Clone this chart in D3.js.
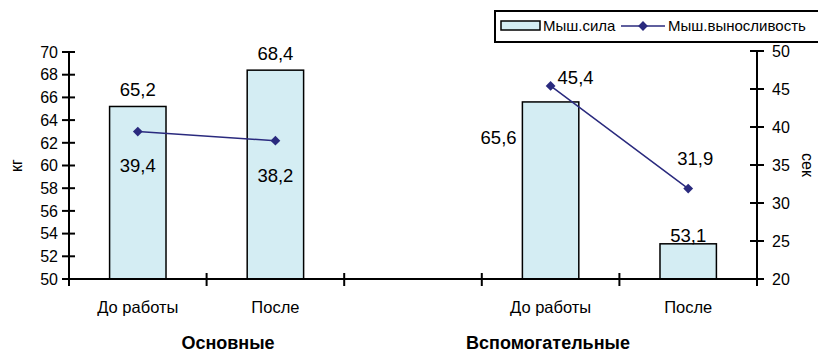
<!DOCTYPE html>
<html>
<head>
<meta charset="utf-8">
<script src="https://cdn.jsdelivr.net/npm/d3@7"></script>
<style>
  body { margin: 0; background: #fff; }
  text { font-family: "Liberation Sans", Arial, sans-serif; fill: #000; }
</style>
</head>
<body>
<div id="chart"></div>
<script>
/** DATA */
const categories = ["До работы", "После", "", "До работы", "После"];
const strength = [65.2, 68.4, null, 65.6, 53.1];     // кг
const endurance = [39.4, 38.2, null, 45.4, 31.9];    // сек
const leftTicks = [50, 52, 54, 56, 58, 60, 62, 64, 66, 68, 70];
const rightTicks = [20, 25, 30, 35, 40, 45, 50];
const groups = ["Основные", "Вспомогательные"];

// label offsets (dx, dy) relative to the mark, tuned by eye
const barLabelOffset = [[0, -17], [0, -17], null, [-52, 35], [0, -8]];
const lineLabelOffset = [[0, 34], [0, 35], null, [25, -9], [7, -30]];
const groupX = [228, 548];

const width = 818, height = 353,
  margin = { top: 51, bottom: 74, left: 69, right: 61 };

const fmt = v => String(v).replace(".", ",");

const svg = d3.select("#chart").append("svg")
  .attr("width", width)
  .attr("height", height);

const x = d3.scaleBand()
  .domain(d3.range(categories.length))
  .range([margin.left, width - margin.right]);

const yL = d3.scaleLinear([50, 70], [height - margin.bottom, margin.top + 1]);
const yR = d3.scaleLinear([20, 50], [height - margin.bottom, margin.top]);

const barW = x.bandwidth() * 0.41;
const cx = i => x(i) + x.bandwidth() / 2;

// bars
svg.selectAll("rect.bar")
  .data(strength.map((v, i) => ({ v, i })).filter(d => d.v != null))
  .join("rect")
  .attr("class", "bar")
  .attr("x", d => cx(d.i) - barW / 2)
  .attr("y", d => yL(d.v))
  .attr("width", barW)
  .attr("height", d => yL(50) - yL(d.v))
  .attr("fill", "#d4edf3")
  .attr("stroke", "#000")
  .attr("stroke-width", 1.5);

// axes
const axisG = svg.append("g").attr("stroke", "#000").attr("stroke-width", 2);
axisG.append("line")
  .attr("x1", margin.left).attr("x2", margin.left)
  .attr("y1", yL(70)).attr("y2", yL(50));
axisG.append("line")
  .attr("x1", width - margin.right).attr("x2", width - margin.right)
  .attr("y1", yR(50)).attr("y2", yR(20));
axisG.append("line")
  .attr("x1", margin.left).attr("x2", width - margin.right)
  .attr("y1", yL(50)).attr("y2", yL(50));

axisG.selectAll("line.lt")
  .data(leftTicks).join("line")
  .attr("x1", margin.left - 7).attr("x2", margin.left + 6)
  .attr("y1", d => yL(d)).attr("y2", d => yL(d));
axisG.selectAll("line.rt")
  .data(rightTicks).join("line")
  .attr("x1", width - margin.right - 7).attr("x2", width - margin.right + 7)
  .attr("y1", d => yR(d)).attr("y2", d => yR(d));
axisG.selectAll("line.bt")
  .data(d3.range(categories.length + 1)).join("line")
  .attr("x1", d => margin.left + d * x.step()).attr("x2", d => margin.left + d * x.step())
  .attr("y1", yL(50) - 6).attr("y2", yL(50) + 7);

svg.selectAll("text.lt")
  .data(leftTicks).join("text")
  .attr("x", margin.left - 11).attr("y", d => yL(d))
  .attr("dy", "0.36em").attr("text-anchor", "end")
  .style("font-size", "16px")
  .text(d => d);
svg.selectAll("text.rt")
  .data(rightTicks).join("text")
  .attr("x", width - margin.right + 15).attr("y", d => yR(d))
  .attr("dy", "0.36em")
  .style("font-size", "16px")
  .text(d => d);
svg.selectAll("text.cat")
  .data(categories).join("text")
  .attr("x", (d, i) => cx(i)).attr("y", 313)
  .attr("text-anchor", "middle")
  .style("font-size", "16.5px")
  .text(d => d);
svg.selectAll("text.grp")
  .data(groups).join("text")
  .attr("x", (d, i) => groupX[i]).attr("y", 349)
  .attr("text-anchor", "middle")
  .style("font-size", "18px").style("font-weight", "bold")
  .text(d => d);

svg.append("text")
  .attr("transform", `translate(22,${(yL(50) + yL(70)) / 2}) rotate(-90)`)
  .attr("text-anchor", "middle").style("font-size", "16px").text("кг");
svg.append("text")
  .attr("transform", `translate(802,${(yR(20) + yR(50)) / 2}) rotate(90)`)
  .attr("text-anchor", "middle").style("font-size", "16px").text("сек");

// line, broken at the empty category
const line = d3.line()
  .defined(d => d.v != null)
  .x(d => cx(d.i))
  .y(d => yR(d.v));
const pts = endurance.map((v, i) => ({ v, i }));
svg.append("path")
  .datum(pts)
  .attr("d", line)
  .attr("fill", "none")
  .attr("stroke", "#2a2a7e")
  .attr("stroke-width", 1.5);
const marker = d3.symbol(d3.symbolSquare, 48);
svg.selectAll("path.pt")
  .data(pts.filter(d => d.v != null)).join("path")
  .attr("d", marker)
  .attr("transform", d => `translate(${cx(d.i)},${yR(d.v)}) rotate(45)`)
  .attr("fill", "#2a2a7e");

// value labels
svg.selectAll("text.bl")
  .data(strength.map((v, i) => ({ v, i })).filter(d => d.v != null)).join("text")
  .attr("x", d => cx(d.i) + barLabelOffset[d.i][0])
  .attr("y", d => yL(d.v) + barLabelOffset[d.i][1])
  .attr("dy", "0.36em").attr("text-anchor", "middle")
  .style("font-size", "18.5px")
  .text(d => fmt(d.v));
svg.selectAll("text.ll")
  .data(pts.filter(d => d.v != null)).join("text")
  .attr("x", d => cx(d.i) + lineLabelOffset[d.i][0])
  .attr("y", d => yR(d.v) + lineLabelOffset[d.i][1])
  .attr("dy", "0.36em").attr("text-anchor", "middle")
  .style("font-size", "18.5px")
  .text(d => fmt(d.v));

// legend
const lg = svg.append("g");
lg.append("rect")
  .attr("x", 495).attr("y", 11).attr("width", 330).attr("height", 31)
  .attr("fill", "#fff").attr("stroke", "#000").attr("stroke-width", 2);
lg.append("rect")
  .attr("x", 501).attr("y", 21).attr("width", 39).attr("height", 9)
  .attr("fill", "#d4edf3").attr("stroke", "#000").attr("stroke-width", 1.5);
lg.append("text").attr("x", 543).attr("y", 31).style("font-size", "15px").text("Мыш.сила");
lg.append("line")
  .attr("x1", 621).attr("x2", 665).attr("y1", 26).attr("y2", 26)
  .attr("stroke", "#2a2a7e").attr("stroke-width", 1.5);
lg.append("path").attr("d", marker)
  .attr("transform", "translate(643,26) rotate(45)").attr("fill", "#2a2a7e");
lg.append("text").attr("x", 668).attr("y", 31).style("font-size", "15px").text("Мыш.выносливость");
</script>
</body>
</html>
